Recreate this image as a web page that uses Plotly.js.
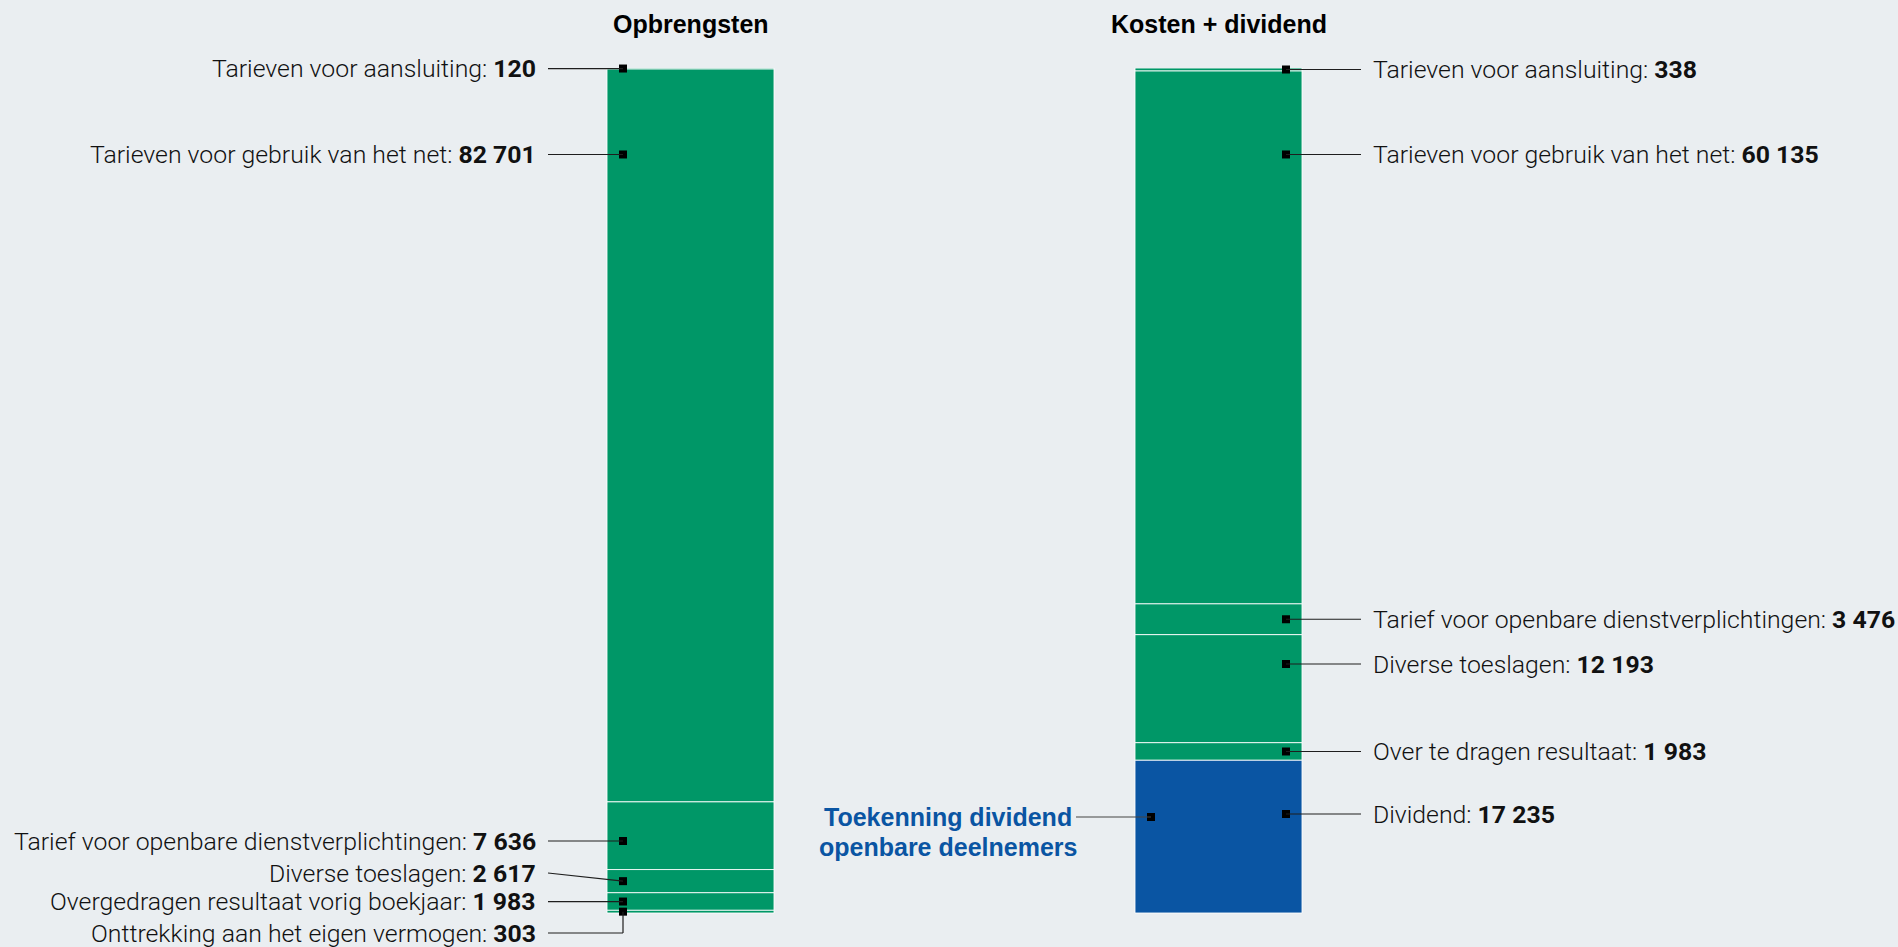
<!DOCTYPE html>
<html>
<head>
<meta charset="utf-8">
<script src="https://cdn.plot.ly/plotly-3.0.1.min.js"></script>
<style>
  html, body { margin: 0; padding: 0; background: #eaeef1; }
  #chart { width: 1898px; height: 947px; }
</style>
</head>
<body>
<div id="chart"></div>
<script>
// ---------------- DATA (top to bottom within each column) ----------------
const columnTitles = ["Opbrengsten", "Kosten + dividend"];

const leftLabels = [
  "Tarieven voor aansluiting",
  "Tarieven voor gebruik van het net",
  "Tarief voor openbare dienstverplichtingen",
  "Diverse toeslagen",
  "Overgedragen resultaat vorig boekjaar",
  "Onttrekking aan het eigen vermogen"
];
const leftValues = [120, 82701, 7636, 2617, 1983, 303];

const rightLabels = [
  "Tarieven voor aansluiting",
  "Tarieven voor gebruik van het net",
  "Tarief voor openbare dienstverplichtingen",
  "Diverse toeslagen",
  "Over te dragen resultaat",
  "Dividend"
];
const rightValues = [338, 60135, 3476, 12193, 1983, 17235];

const dividendNote = ["Toekenning dividend", "openbare deelnemers"];

// ---------------- LAYOUT HELPERS ----------------
// label / marker positions in value units (null = middle of the segment)
const leftLabelAt  = [null, 85600, 8125, 4514, null, -2257];
const leftMarkerAt = [null, 85600, 8125, null, null, null];
const leftElbow    = [false, false, false, false, false, true];
const rightLabelAt  = [null, 85600, null, 28100, null, 11172];
const rightMarkerAt = [null, 85600, null, 28100, null, 11172];
const rightElbow    = [false, false, false, false, false, false];
const noteMarkerAt = 10834;
const noteLineGapPx = 30;

const GREEN = "#009767";
const BLUE = "#0a55a3";
const BG = "#eaeef1";
const LINE = "#1e1e1e";
const LABEL_FONT = { family: "Roboto, 'Liberation Sans', sans-serif", size: 24.8, color: "#111", weight: 300 };

const W = 1898, H = 947;
const plotTop = 68, barPx = 845, bottomPad = 34;
const centerPx = [690.5, 1218.5], unitPx = 528, barWidthPx = 167;
const markerInsetPx = 16, leaderPx = 75, gapPx = 10;

const total = leftValues.reduce((a, b) => a + b, 0);
const yMin = -total * bottomPad / barPx;
const x0 = -centerPx[0] / unitPx;
const x1 = x0 + W / unitPx;
const barW = barWidthPx / unitPx;
const markerOff = (barWidthPx / 2 - markerInsetPx) / unitPx;

function basesOf(values) {
  return values.map((v, i) => values.slice(i + 1).reduce((a, b) => a + b, 0));
}
function fmt(v) {
  return String(v).replace(/\B(?=(\d{3})+(?!\d))/g, "\u00a0");
}

const traces = [];
const shapes = [];
const annotations = [];
const markerX = [], markerY = [];

function addColumn(idx, labels, values, labelAt, markerAt, elbow, side) {
  const bases = basesOf(values);
  traces.push({
    type: "bar",
    x: values.map(() => idx),
    y: values,
    base: bases,
    width: barW,
    marker: {
      color: labels.map(l => l === "Dividend" ? BLUE : GREEN),
      line: { color: "rgba(255,255,255,0.85)", width: 1 }
    },
    hoverinfo: "skip",
    showlegend: false
  });
  const mx = idx + side * markerOff;
  values.forEach((v, i) => {
    const mid = bases[i] + v / 2;
    const ly = labelAt[i] === null ? mid : labelAt[i];
    const my = markerAt[i] === null ? mid : markerAt[i];
    markerX.push(mx); markerY.push(my);
    const common = { type: "line", xref: "x", xsizemode: "pixel", xanchor: mx, yref: "y", line: { color: LINE, width: 1.2 }, layer: "above" };
    if (elbow[i]) {
      shapes.push(Object.assign({}, common, { x0: side * leaderPx, x1: 0, y0: ly, y1: ly }));
      shapes.push(Object.assign({}, common, { x0: 0, x1: 0, y0: ly, y1: my }));
    } else {
      shapes.push(Object.assign({}, common, { x0: side * leaderPx, x1: 0, y0: ly, y1: my }));
    }
    annotations.push({
      x: mx, y: ly, xref: "x", yref: "y",
      xanchor: side < 0 ? "right" : "left", yanchor: "middle",
      xshift: side * (leaderPx + gapPx),
      text: labels[i] + ": <b>" + fmt(v) + "</b>",
      showarrow: false,
      font: LABEL_FONT
    });
  });
}

addColumn(0, leftLabels, leftValues, leftLabelAt, leftMarkerAt, leftElbow, -1);
addColumn(1, rightLabels, rightValues, rightLabelAt, rightMarkerAt, rightElbow, 1);

// note on the left of the dividend segment (two centred lines)
const noteX = 1 - markerOff;
markerX.push(noteX); markerY.push(noteMarkerAt);
shapes.push({ type: "line", xref: "x", xsizemode: "pixel", xanchor: noteX, yref: "y",
  x0: -leaderPx, x1: 0, y0: noteMarkerAt, y1: noteMarkerAt, line: { color: "#444", width: 1.2 }, layer: "above" });
const noteFont = { family: "'Liberation Sans', Arial, sans-serif", size: 25, color: BLUE };
const noteCenterShift = -(leaderPx + gapPx) - 118;
dividendNote.forEach((line, k) => {
  annotations.push({
    x: noteX, y: noteMarkerAt, xref: "x", yref: "y",
    xanchor: "center", yanchor: "middle",
    xshift: noteCenterShift, yshift: -k * noteLineGapPx,
    text: "<b>" + line + "</b>", showarrow: false, font: noteFont
  });
});

// column titles
columnTitles.forEach((t, i) => {
  annotations.push({
    x: i, y: 1, xref: "x", yref: "paper", xanchor: "center", yanchor: "middle", yshift: 44,
    text: "<b>" + t + "</b>", showarrow: false,
    font: { family: "'Liberation Sans', Arial, sans-serif", size: 25, color: "#000" }
  });
});

traces.push({
  type: "scatter", mode: "markers", x: markerX, y: markerY,
  marker: { symbol: "square", size: 8, color: "#000" },
  hoverinfo: "skip", showlegend: false, cliponaxis: false
});

const layout = {
  width: W, height: H,
  margin: { l: 0, r: 0, t: plotTop, b: 0, pad: 0 },
  paper_bgcolor: BG, plot_bgcolor: BG,
  barmode: "overlay",
  showlegend: false,
  xaxis: { range: [x0, x1], visible: false, fixedrange: true },
  yaxis: { range: [yMin, total], visible: false, fixedrange: true },
  shapes: shapes,
  annotations: annotations
};

Plotly.newPlot("chart", traces, layout, { staticPlot: true, displayModeBar: false });
</script>
</body>
</html>
